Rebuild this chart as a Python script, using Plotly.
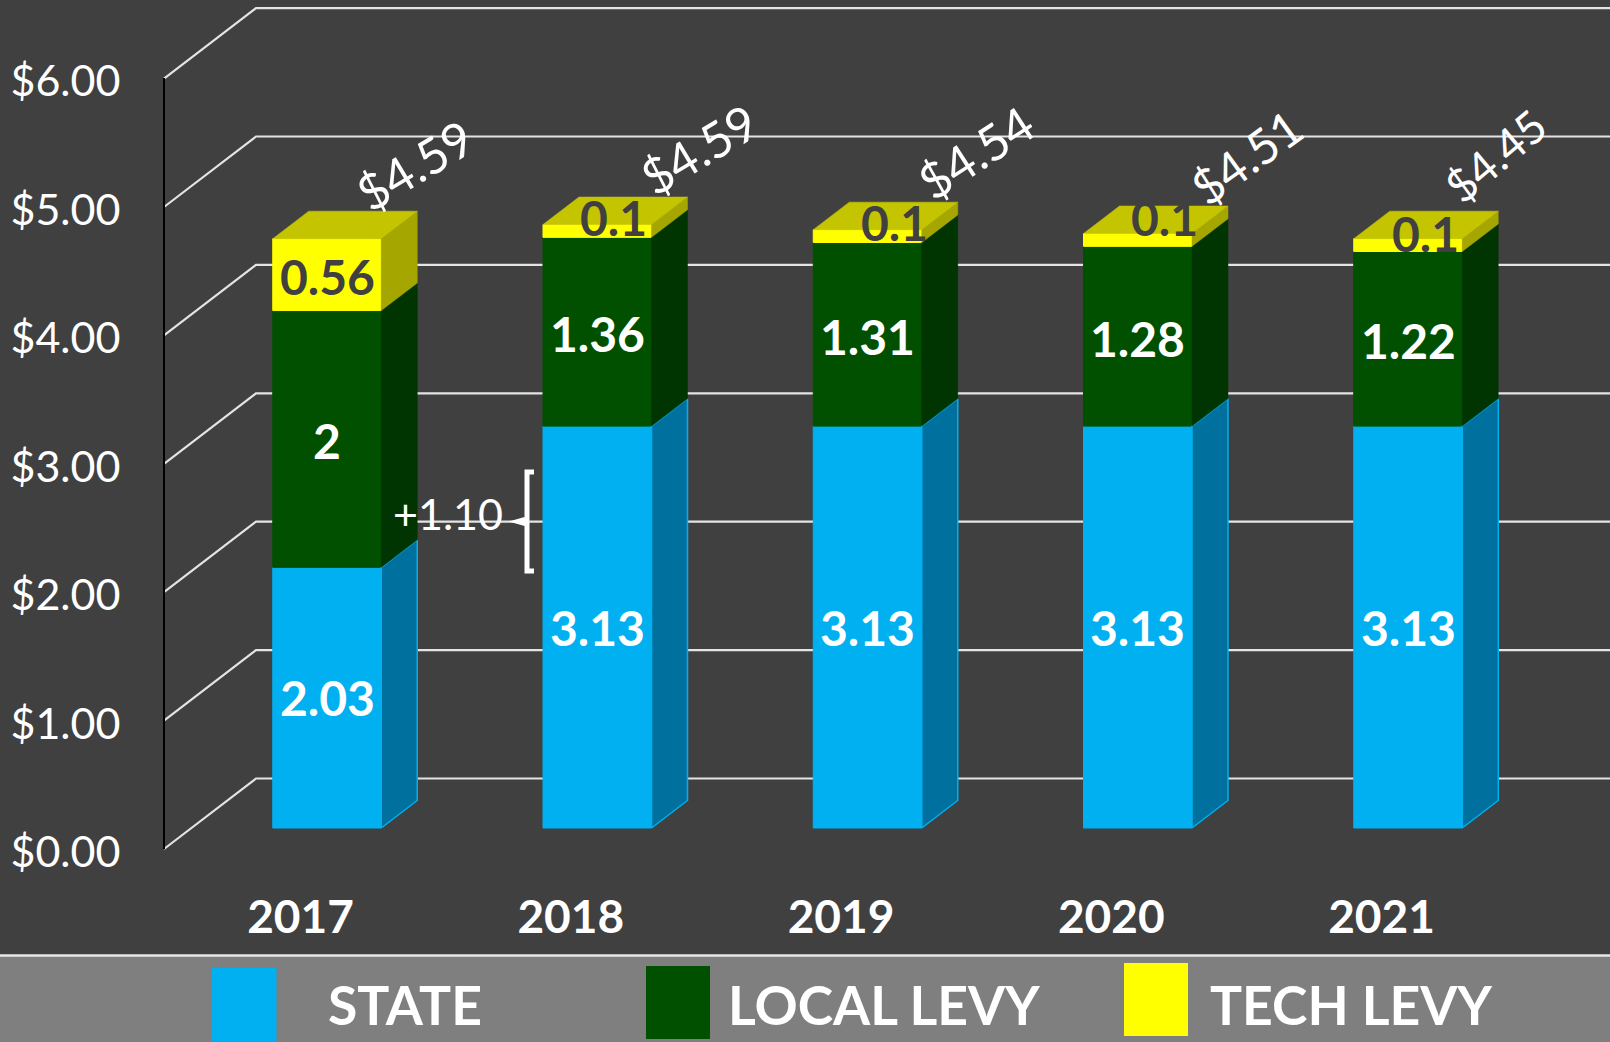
import plotly.graph_objects as go

# ---- data ----
YEARS = [2017, 2018, 2019, 2020, 2021]
STATE = [2.03, 3.13, 3.13, 3.13, 3.13]
LOCAL = [2.00, 1.47, 1.43, 1.40, 1.36]      # drawn heights
TECH = [0.56, 0.10, 0.10, 0.10, 0.10]
STATE_LABELS = ["2.03", "3.13", "3.13", "3.13", "3.13"]
LOCAL_LABELS = ["2", "1.36", "1.31", "1.28", "1.22"]
TECH_LABELS = ["0.56", "0.1", "0.1", "0.1", "0.1"]
TOTAL_LABELS = ["$4.59", "$4.59", "$4.54", "$4.51", "$4.45"]
GRID_VALUES = [0, 1, 2, 3, 4, 5, 6]
LEGEND_NAMES = ["STATE", "LOCAL LEVY", "TECH LEVY"]

# ---- style / layout constants ----
W, H = 1610, 1042
PITCH = 270.25        # px per year
UNIT = 128.4          # px per dollar
X0_PX, Y0_PX = 327.0, 828.0   # centre of the 2017 bar, bar base
BAR_W = 108.5 / PITCH
DEPTH_X, DEPTH_Y = 36 / PITCH, 27.5 / UNIT
AXIS_PX, BACK_PX = 164.0, 256.0
FRONT_Y0, BACK_Y0 = 849.0, 778.5

BG, BAND = "#404040", "#7F7F7F"
BLUE, BLUE_S = "#00B0F0", "#00709F"
GREEN, GREEN_S = "#005000", "#003400"
YEL, YEL_S, YEL_T = "#FFFF00", "#A6A600", "#C4C400"
GRID = "#E4E4E4"
FONT = "Lato"


def px_x(p):
    return YEARS[0] + (p - X0_PX) / PITCH


def px_y(p):
    return (Y0_PX - p) / UNIT


X_RANGE = [px_x(0), px_x(W)]
Y_RANGE = [px_y(H), px_y(0)]
fig = go.Figure()

# back wall lines, on the base subplot so they stay behind the bars
for v in GRID_VALUES:
    fig.add_trace(go.Scatter(
        x=[px_x(AXIS_PX), px_x(BACK_PX), px_x(W)],
        y=[v + px_y(FRONT_Y0), v + px_y(BACK_Y0), v + px_y(BACK_Y0)],
        mode="lines", line=dict(color=GRID, width=2.2),
        hoverinfo="skip", showlegend=False, xaxis="x", yaxis="y"))

# invisible traces that carry the visible tick axes
fig.add_trace(go.Scatter(x=[px_x(AXIS_PX)] * len(GRID_VALUES), y=GRID_VALUES, mode="markers",
                         marker=dict(opacity=0), hoverinfo="skip", showlegend=False,
                         xaxis="x", yaxis="y3"))
fig.add_trace(go.Scatter(x=YEARS, y=[0] * len(YEARS), mode="markers",
                         marker=dict(opacity=0), hoverinfo="skip", showlegend=False,
                         xaxis="x3", yaxis="y"))

# front faces
base = [0.0] * len(YEARS)
for name, vals, col in zip(LEGEND_NAMES, [STATE, LOCAL, TECH], [BLUE, GREEN, YEL]):
    fig.add_trace(go.Bar(x=YEARS, y=vals, base=list(base), width=BAR_W, name=name,
                         marker=dict(color=col, line=dict(color=col, width=1)),
                         hoverinfo="skip", showlegend=False, xaxis="x2", yaxis="y2"))
    base = [b + v for b, v in zip(base, vals)]
TOPS = base


def poly(xs, ys, fill, line=None):
    fig.add_trace(go.Scatter(
        x=xs + xs[:1], y=ys + ys[:1], mode="lines", fill="toself", fillcolor=fill,
        line=dict(color=line or fill, width=1.5 if line else 0.5),
        hoverinfo="skip", showlegend=False, xaxis="x2", yaxis="y2"))


# side and top faces derived from the stacked values
for i, yr in enumerate(YEARS):
    x0, x1 = yr - BAR_W / 2, yr + BAR_W / 2
    a = 0.0
    for vals, col, edge in [(STATE, BLUE_S, BLUE), (LOCAL, GREEN_S, None), (TECH, YEL_S, None)]:
        b = a + vals[i]
        poly([x1, x1 + DEPTH_X, x1 + DEPTH_X, x1], [a, a + DEPTH_Y, b + DEPTH_Y, b], col, edge)
        a = b
    poly([x0, x1, x1 + DEPTH_X, x0 + DEPTH_X], [a, a, a + DEPTH_Y, a + DEPTH_Y], YEL_T)

ann = []


def note(x, y, text, color="white", size=48, bold=True, xs=0, ys=0, angle=0):
    t = f"<b>{text}</b>" if bold else text
    ann.append(dict(x=x, y=y, xref="x2", yref="y2", text=t, showarrow=False, xshift=xs, yshift=ys,
                    textangle=angle, font=dict(family=FONT, size=size, color=color),
                    xanchor="center", yanchor="middle"))


TECH_SHIFT_X = [0, 16, 27, 27, 17]
TECH_SHIFT_Y = [-2, 13, 14, 22, 12]
TOTAL_SIZE = [49, 49, 49, 48, 45]
TOTAL_ANGLE = [-31, -31, -33, -36, -40]
TOTAL_SHIFT_X = [87, 101, 108, 109, 87]
TOTAL_SHIFT_Y = [74, 76, 78, 77, 83]
for i, yr in enumerate(YEARS):
    s, l, t = STATE[i], LOCAL[i], TECH[i]
    note(yr, s / 2, STATE_LABELS[i], ys=0)
    note(yr, s + l / 2, LOCAL_LABELS[i], ys=-2)
    note(yr, s + l + t / 2, TECH_LABELS[i], color="#404040", xs=TECH_SHIFT_X[i], ys=TECH_SHIFT_Y[i])
    note(yr, TOPS[i], TOTAL_LABELS[i], size=TOTAL_SIZE[i], bold=False, angle=TOTAL_ANGLE[i],
         xs=TOTAL_SHIFT_X[i], ys=TOTAL_SHIFT_Y[i])

# the +1.10 note and its bracket
ann.append(dict(x=448 / W, y=1 - 513.5 / H, xref="paper", yref="paper", text="+1.10", showarrow=False,
                xanchor="center", yanchor="middle",
                font=dict(family=FONT, size=43, color="white")))


def pp(x, y):
    return f"{x / W:.5f},{1 - y / H:.5f}"


bracket = (f"M {pp(534, 472)} L {pp(527, 472)} L {pp(527, 519)} "
           f"L {pp(518, 521.5)} L {pp(527, 524)} L {pp(527, 571)} L {pp(534, 571)}")
shapes = [
    dict(type="path", xref="paper", yref="paper", path=bracket,
         line=dict(color="white", width=5), layer="above"),
    dict(type="rect", xref="paper", yref="paper", x0=0, x1=1, y0=0, y1=1 - 956 / H,
         fillcolor=BAND, line=dict(width=0), layer="below"),
    dict(type="line", xref="paper", yref="paper", x0=0, x1=1, y0=1 - 955.5 / H, y1=1 - 955.5 / H,
         line=dict(color="#E8E8E8", width=2.5), layer="below"),
]

# legend band
SWATCHES = [(212, 276.5, 968, 1041), (646, 710, 966, 1039), (1124, 1188, 963, 1036)]
LEGEND_TEXT_X = [405.5, 884, 1351.5]
for name, col, (x0, x1, y0, y1), tx in zip(LEGEND_NAMES, [BLUE, GREEN, YEL], SWATCHES, LEGEND_TEXT_X):
    shapes.append(dict(type="rect", xref="paper", yref="paper", x0=x0 / W, x1=x1 / W,
                       y0=1 - y1 / H, y1=1 - y0 / H, fillcolor=col, line=dict(width=0), layer="above"))
    ann.append(dict(x=tx / W, y=1 - 1004 / H, xref="paper", yref="paper", text=f"<b>{name}</b>", showarrow=False,
                    xanchor="center", yanchor="middle",
                    font=dict(family=FONT, size=53.5, color="white")))

hidden = dict(visible=False, fixedrange=True, automargin=False)
fig.update_layout(
    width=W, height=H, margin=dict(l=0, r=0, t=0, b=0, pad=0),
    paper_bgcolor=BG, plot_bgcolor="rgba(0,0,0,0)",
    barmode="overlay", showlegend=False, annotations=ann, shapes=shapes,
    xaxis=dict(range=X_RANGE, domain=[0, 1], **hidden),
    yaxis=dict(range=Y_RANGE, domain=[0, 1], **hidden),
    xaxis2=dict(range=X_RANGE, overlaying="x", **hidden),
    yaxis2=dict(range=Y_RANGE, overlaying="y", **hidden),
    yaxis3=dict(range=[0, 6], domain=[1 - FRONT_Y0 / H, 1 - 78 / H], anchor="free", position=AXIS_PX / W,
                side="left", tickvals=GRID_VALUES, tickformat="$.2f", showgrid=False, zeroline=False,
                showline=True, linecolor="#000000", linewidth=2, automargin=False,
                ticks="outside", ticklen=34, tickcolor="rgba(0,0,0,0)", ticklabelshift=3,
                tickfont=dict(family=FONT, size=43, color="white"), fixedrange=True),
    # year labels: same scale as the bars, slid left as in the reference
    xaxis3=dict(range=[r + 26.5 / PITCH for r in X_RANGE], domain=[0, 1], anchor="free",
                position=1 - 885.5 / H, side="bottom", tickvals=YEARS, tickformat="d",
                showgrid=False, zeroline=False, showline=False, automargin=False,
                ticks="", tickfont=dict(family=FONT, size=46, color="white", weight=700),
                fixedrange=True),
)
fig.write_html("out.html", config=dict(displayModeBar=False),
               post_script="document.body.style.margin='0';document.body.style.background='#404040';")
